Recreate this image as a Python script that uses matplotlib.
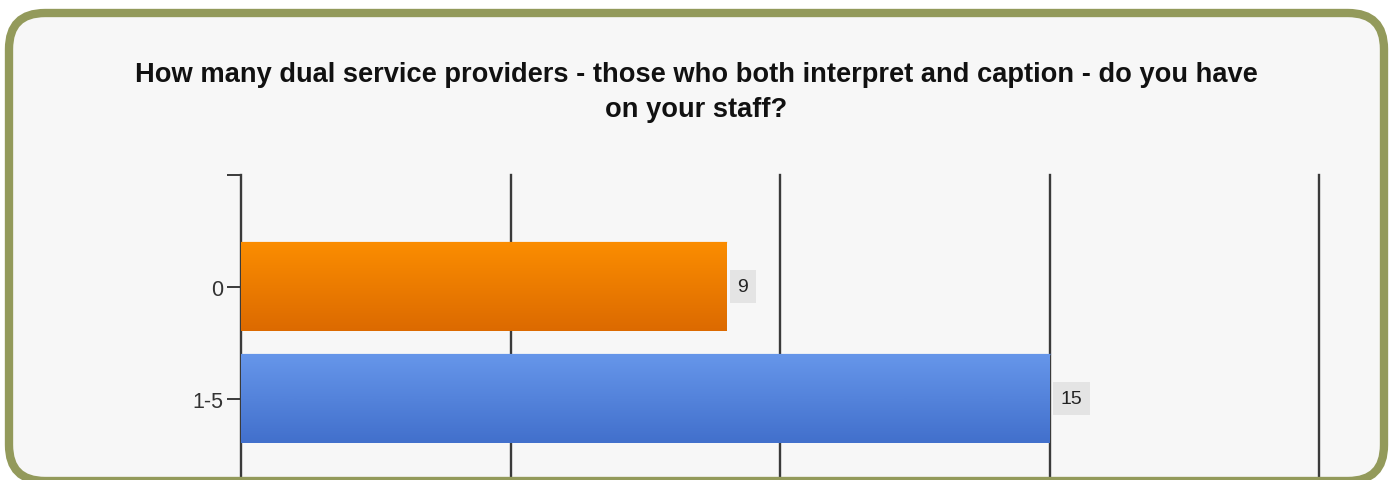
import matplotlib
matplotlib.use('Agg')
import matplotlib.pyplot as plt
import matplotlib.patches as mpatches
from matplotlib.colors import LinearSegmentedColormap
import numpy as np

# ---------------------------------------------------------------------
# Data
# ---------------------------------------------------------------------
categories = ['0', '1-5']
values = [9, 15]
bar_top_colors = ['#fb8d00', '#6696ea']
bar_bottom_colors = ['#dc6a00', '#4270cc']
x_ticks = [0, 5, 10, 15, 20]
title_lines = ['How many dual service providers - those who both interpret and caption - do you have',
               'on your staff?']

W, H = 1393, 481
plt.rcParams['font.family'] = ['Liberation Sans', 'DejaVu Sans']

fig = plt.figure(figsize=(W / 100, H / 100), dpi=100)
fig.patch.set_facecolor('white')

# frame geometry (pixels, y downward): stroke centre line
fx0, fy0, fx1, fy1 = 9, 14, 1384, 482
frame_box = dict(boxstyle='round,pad=0,rounding_size=36')

# background panel with rounded frame
bg = fig.add_axes([0, 0, 1, 1], zorder=0)
bg.set_xlim(0, W)
bg.set_ylim(H, 0)
bg.axis('off')
bg.add_patch(mpatches.FancyBboxPatch((fx0, fy0), fx1 - fx0, fy1 - fy0,
                                     facecolor='#f7f7f7', edgecolor='none', **frame_box))

# title, two lines on given baselines
for line, base in zip(title_lines, [82, 117]):
    fig.text(696 / W, 1 - base / H, line, ha='center', va='baseline',
             fontsize=19.6, fontweight='bold', color='#111111')

# chart axes: top at y=175, categories every 112 px, runs off the bottom
left_px, top_px, right_px = 241, 175.5, 1319
unit = 112
ymin, ymax = -1, 2.0
ax_h = unit * (ymax - ymin)
ax = fig.add_axes([left_px / W, 1 - (top_px + ax_h) / H,
                   (right_px - left_px) / W, ax_h / H], zorder=1)
ax.patch.set_alpha(0)

ypos = np.arange(len(categories))
bars = ax.barh(ypos, values, height=0.786, color='none', edgecolor='none', zorder=3)
for b, top_c, bot_c in zip(bars, bar_top_colors, bar_bottom_colors):
    cmap = LinearSegmentedColormap.from_list('g', [top_c, bot_c])
    x0, y0 = b.get_x(), b.get_y()
    w, h = b.get_width(), b.get_height()
    grad = np.linspace(0, 1, 100).reshape(-1, 1)
    im = ax.imshow(grad, cmap=cmap, aspect='auto', extent=(x0, x0 + w, y0 + h, y0),
                   zorder=3, interpolation='bicubic')
    im.set_clip_path(b)
    ax.plot([x0, x0 + w], [y0, y0], color=top_c, lw=1, alpha=0.5, zorder=4)

ax.set_xlim(0, 20)
ax.set_ylim(ymax, ymin)

for y, v in zip(ypos, values):
    ax.annotate(str(v), (v, y), xytext=(8, 0), textcoords='offset points',
                ha='left', va='center', fontsize=14, color='#222222',
                bbox=dict(facecolor='#e4e4e4', edgecolor='none', pad=5.5), zorder=5)

for x in x_ticks[1:]:
    ax.axvline(x, color='#3a3a3a', lw=1.7, zorder=2, clip_on=False)

ax.set_xticks([])
ax.set_yticks([-1] + list(ypos))
ax.set_yticklabels([''] + categories, fontsize=15.5, color='#333333')
ax.tick_params(axis='y', length=10, width=1.4, color='#3a3a3a', pad=3)
for s in ['top', 'right', 'bottom']:
    ax.spines[s].set_visible(False)
ax.spines['left'].set_color('#3a3a3a')
ax.spines['left'].set_linewidth(1.7)

# frame on top
fr = fig.add_axes([0, 0, 1, 1], zorder=10)
fr.patch.set_alpha(0)
fr.set_xlim(0, W)
fr.set_ylim(H, 0)
fr.axis('off')
fr.add_patch(mpatches.FancyBboxPatch((fx0, fy0), fx1 - fx0, fy1 - fy0,
                                     facecolor='none', edgecolor='#939a5b', linewidth=6,
                                     **frame_box))

fig.savefig('out.png', dpi=100)
